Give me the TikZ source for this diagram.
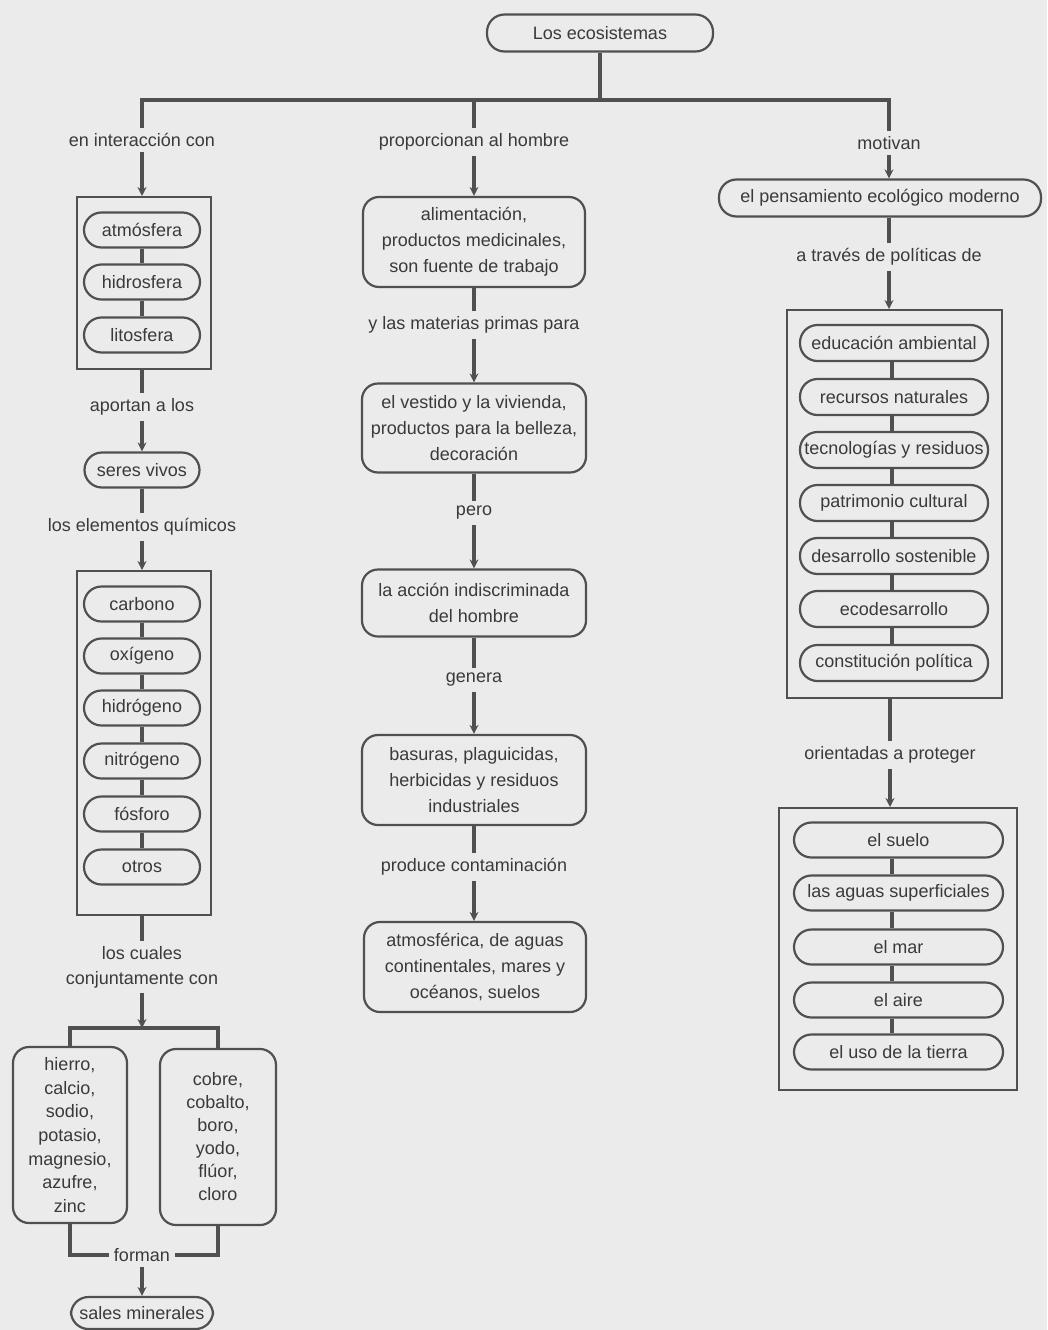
\documentclass[tikz,border=0pt]{standalone}
\usepackage{fontspec}
\setmainfont{Liberation Sans}
\usetikzlibrary{arrows.meta}
\definecolor{ink}{HTML}{505050}
\definecolor{paper}{HTML}{EBEBEB}
\definecolor{txt}{HTML}{3A3A3A}
\tikzset{
  every node/.style={font=\fontsize{18}{26}\selectfont, text=txt},
  conn/.style={draw=ink, line width=3.6pt},
  arr/.style={conn, -{Stealth[length=9pt,width=9pt]}},
  pill/.style={draw=ink, line width=2.2pt, rectangle, rounded corners=17.5pt,
    minimum height=35pt, inner xsep=1pt, inner ysep=0pt},
  rbox/.style={draw=ink, line width=2.2pt, rectangle, rounded corners=16pt,
    align=center, inner sep=0pt},
  frame/.style={draw=ink, line width=2pt, rectangle, inner sep=0pt},
  lbl/.style={inner sep=5pt, align=center},
}
\begin{document}
\begin{tikzpicture}[x=1pt,y=-1pt]
\fill[paper] (0,0) rectangle (1047,1330);
\useasboundingbox (0,0) rectangle (1047,1330);

% ---- root and the three branches
\node[pill, minimum width=226pt, minimum height=37pt] (eco) at (600,33) {Los ecosistemas};
\coordinate (hub) at (600,100);
\node[lbl] (l1) at (142,140) {en interacción con};
\node[lbl] (m0) at (474,142) {proporcionan al hombre};
\node[lbl] (r0) at (889,143) {motivan};
\draw[conn] (eco) -- (hub);
\draw[conn, line join=miter] (l1) -- (l1 |- hub) -- (r0 |- hub) -- (r0);
\draw[conn] (m0 |- hub) -- (m0);

% ---- left branch
\node[frame, minimum width=134pt, minimum height=172pt] (f1) at (144,283) {};
\foreach \t/\y/\n in {atmósfera/230/a1, hidrosfera/282/a2, litosfera/335/a3}
  \node[pill, minimum width=116pt] (\n) at (142,\y) {\t};
\draw[arr] (l1) -- (l1 |- f1.north);
\draw[conn] (a1) -- (a2);
\draw[conn] (a2) -- (a3);

\node[lbl] (l2) at (142,407) {aportan a los};
\draw[conn] (l2 |- f1.south) -- (l2);
\node[pill, minimum width=115pt] (sv) at (142,470) {seres vivos};
\draw[arr] (l2) -- (sv);
\node[lbl] (l3) at (142,527) {los elementos químicos};
\draw[conn] (sv) -- (l3);

\node[frame, minimum width=134pt, minimum height=344pt] (f2) at (144,743) {};
\foreach \t/\y/\n in {carbono/604/e1, oxígeno/656/e2, hidrógeno/708/e3,
    nitrógeno/761/e4, fósforo/814/e5, otros/867/e6}
  \node[pill, minimum width=116pt] (\n) at (142,\y) {\t};
\draw[arr] (l3) -- (l3 |- f2.north);
\foreach \a/\b in {e1/e2, e2/e3, e3/e4, e4/e5, e5/e6}
  \draw[conn] (\a) -- (\b);

\node[lbl, font=\fontsize{18}{25}\selectfont] (l4) at (142,967) {los cuales\\conjuntamente con};
\draw[conn] (l4 |- f2.south) -- (l4);
\coordinate (split) at (142,1028);
\node[rbox, minimum width=114pt, minimum height=176pt, font=\fontsize{18}{23.6}\selectfont]
  (mL) at (70,1135) {hierro,\\calcio,\\sodio,\\potasio,\\magnesio,\\azufre,\\zinc};
\node[rbox, minimum width=116pt, minimum height=176pt, font=\fontsize{18}{23}\selectfont]
  (mR) at (218,1137) {cobre,\\cobalto,\\boro,\\yodo,\\flúor,\\cloro};
\draw[conn, line join=miter] (mL.north) |- (split) -| (mR.north);
\draw[arr] (l4) -- (split);
\node[lbl] (l5) at (142,1255) {forman};
\draw[conn, line join=miter] (mL.south) |- (l5.west);
\draw[conn, line join=miter] (mR.south) |- (l5.east);
\node[pill, minimum width=142pt, minimum height=32pt] (sm) at (142,1313) {sales minerales};
\draw[arr] (l5) -- (sm);

% ---- middle branch
\node[rbox, minimum width=222pt, minimum height=90pt] (b1) at (474,242)
  {alimentación,\\productos medicinales,\\son fuente de trabajo};
\draw[arr] (m0) -- (b1);
\node[lbl] (m1) at (474,325) {y las materias primas para};
\draw[conn] (b1) -- (m1);
\node[rbox, minimum width=224pt, minimum height=89pt] (b2) at (474,428)
  {el vestido y la vivienda,\\productos para la belleza,\\decoración};
\draw[arr] (m1) -- (b2);
\node[lbl] (m2) at (474,513) {pero};
\draw[conn] (b2) -- (m2);
\node[rbox, minimum width=224pt, minimum height=67pt] (b3) at (474,603)
  {la acción indiscriminada\\del hombre};
\draw[arr] (m2) -- (b3);
\node[lbl] (m3) at (474,680) {genera};
\draw[conn] (b3) -- (m3);
\node[rbox, minimum width=224pt, minimum height=90pt] (b4) at (474,780)
  {basuras, plaguicidas,\\herbicidas y residuos\\industriales};
\draw[arr] (m3) -- (b4);
\node[lbl] (m4) at (474,867) {produce contaminación};
\draw[conn] (b4) -- (m4);
\node[rbox, minimum width=222pt, minimum height=90pt] (b5) at (475,967)
  {atmosférica, de aguas\\continentales, mares y\\océanos, suelos};
\draw[arr] (m4) -- (m4 |- b5.north);

% ---- right branch
\coordinate (cx) at (892,0);
\node[pill, minimum width=322pt, minimum height=37pt] (pe) at (880,198)
  {el pensamiento ecológico moderno};
\draw[arr] (r0) -- (r0 |- pe.north);
\node[lbl] (r1l) at (889,257) {a través de políticas de};
\draw[conn] (r1l |- pe.south) -- (r1l);

\node[frame, minimum width=215pt, minimum height=388pt] (f3) at (894.5,504) {};
\foreach \t/\y/\n in {educación ambiental/343/p1, recursos naturales/397/p2,
    tecnologías y residuos/450/p3, patrimonio cultural/503/p4,
    desarrollo sostenible/556/p5, ecodesarrollo/609/p6, constitución política/663/p7}
  \node[pill, minimum width=188pt, minimum height=36pt] (\n) at (894,\y) {\t};
\draw[arr] (r1l) -- (r1l |- f3.north);
\foreach \a/\b in {p1/p2, p2/p3, p3/p4, p4/p5, p5/p6, p6/p7}
  \draw[conn] (\a.south -| cx) -- (\b.north -| cx);

\node[lbl] (r2l) at (890,755) {orientadas a proteger};
\draw[conn] (r2l |- f3.south) -- (r2l);
\node[frame, minimum width=238pt, minimum height=282pt] (f4) at (898,949) {};
\foreach \t/\y/\n in {el suelo/840/q1, las aguas superficiales/893/q2,
    el mar/947/q3, el aire/1000/q4, el uso de la tierra/1052/q5}
  \node[pill, minimum width=209pt] (\n) at (898.5,\y) {\t};
\draw[arr] (r2l) -- (r2l |- f4.north);
\foreach \a/\b in {q1/q2, q2/q3, q3/q4, q4/q5}
  \draw[conn] (\a.south -| cx) -- (\b.north -| cx);
\end{tikzpicture}
\end{document}
